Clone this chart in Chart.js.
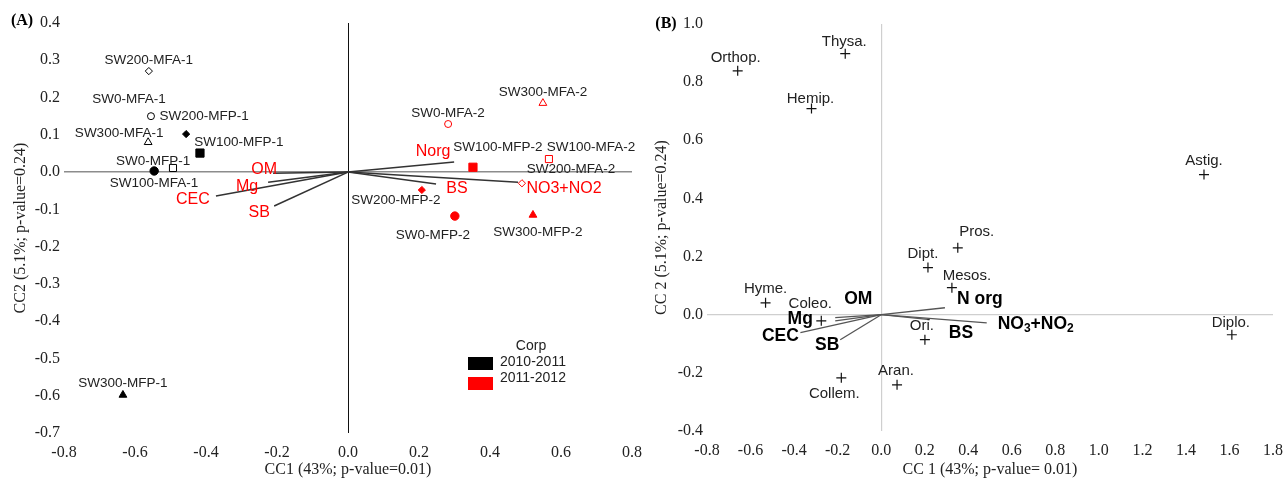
<!DOCTYPE html>
<html>
<head>
<meta charset="utf-8">
<script src="https://cdn.jsdelivr.net/npm/chart.js@4.4.0/dist/chart.umd.min.js"></script>
<style>
  body { margin: 0; background: #ffffff; overflow: hidden; }
  #caixaA { position: absolute; left: 0; top: 0; width: 660px; height: 482px; }
  #caixaB { position: absolute; left: 640px; top: 0; width: 643px; height: 482px; }
</style>
</head>
<body>
<div id="caixaA"><canvas id="graficoA" width="660" height="482"></canvas></div>
<div id="caixaB"><canvas id="graficoB" width="643" height="482"></canvas></div>
<script>
// ---- dados (A) amostras e variáveis do solo
const amostras = ['SW200-MFA-1', 'SW0-MFA-1', 'SW300-MFA-1', 'SW200-MFP-1', 'SW100-MFP-1', 'SW0-MFP-1', 'SW100-MFA-1', 'SW300-MFP-1',
  'SW0-MFA-2', 'SW300-MFA-2', 'SW100-MFP-2', 'SW100-MFA-2', 'SW200-MFA-2', 'SW200-MFP-2', 'SW0-MFP-2', 'SW300-MFP-2'];
const amostrasCC1 = [-0.561, -0.555, -0.563, -0.456, -0.417, -0.546, -0.493, -0.634, 0.282, 0.549, 0.352, 0.566, 0.490, 0.208, 0.301, 0.521];
const amostrasCC2 = [0.271, 0.150, 0.080, 0.102, 0.051, 0.003, 0.011, -0.598, 0.129, 0.185, 0.013, 0.035, -0.030, -0.048, -0.118, -0.115];
const safras = ['2010-2011', '2011-2012'];

const variaveisA = ['OM', 'Mg', 'CEC', 'SB', 'Norg', 'BS', 'NO3+NO2'];
const variaveisA_CC1 = [-0.211, -0.225, -0.372, -0.208, 0.299, 0.248, 0.479];
const variaveisA_CC2 = [-0.003, -0.027, -0.064, -0.091, 0.027, -0.032, -0.027];

// ---- dados (B) táxons e variáveis do solo
const taxons = ['Orthop.', 'Thysa.', 'Hemip.', 'Astig.', 'Pros.', 'Dipt.', 'Mesos.', 'Hyme.', 'Coleo.', 'Ori.', 'Diplo.', 'Collem.', 'Aran.'];
const taxonsCC1 = [-0.659, -0.165, -0.320, 1.483, 0.352, 0.215, 0.325, -0.531, -0.275, 0.201, 1.611, -0.183, 0.073];
const taxonsCC2 = [0.839, 0.898, 0.709, 0.482, 0.230, 0.162, 0.093, 0.041, -0.021, -0.086, -0.069, -0.217, -0.241];

const variaveisB = ['OM', 'Mg', 'CEC', 'SB', 'N org', 'BS', 'NO3+NO2'];
const variaveisB_CC1 = [-0.211, -0.211, -0.371, -0.188, 0.293, 0.224, 0.485];
const variaveisB_CC2 = [-0.010, -0.021, -0.062, -0.086, 0.024, -0.017, -0.028];

// ---- ticks
const ticksA_x = [-0.8, -0.6, -0.4, -0.2, 0.0, 0.2, 0.4, 0.6, 0.8];
const ticksA_y = [-0.7, -0.6, -0.5, -0.4, -0.3, -0.2, -0.1, 0.0, 0.1, 0.2, 0.3, 0.4];
const ticksB_x = [-0.8, -0.6, -0.4, -0.2, 0.0, 0.2, 0.4, 0.6, 0.8, 1.0, 1.2, 1.4, 1.6, 1.8];
const ticksB_y = [-0.4, -0.2, 0.0, 0.2, 0.4, 0.6, 0.8, 1.0];

// deslocamento dos rótulos (px) em relação ao ponto / ponta da seta
const deslocAmostras = [[0, -11], [-22, -17], [-29, -9], [18, -18], [39, -11], [-1, -10], [-19, 15], [0, -12],
  [0, -11], [0, -11], [25, -20], [42, -12], [49, -14], [-26, 10], [-22, 19], [5, 17]];
const deslocVarA = [[-9, -4], [-21, 4], [-23, 4], [-15, 7], [-21, -10], [21, 5], [46, 6]];
const deslocTaxons = [[-2, -13], [-1, -12], [-1, -10], [0, -14], [19, -16], [-5, -14], [15, -12], [0, -14], [-11, -17], [-3, -14], [-1, -12], [-7, 16], [-1, -14]];
const deslocVarB = [[23, -18], [-35, -2], [-20, 3], [-13, 5], [35, -9], [31, 14], [49, 1]];

const coresSafra = ['#000000', '#ff0000'];
const SERIF = "'Liberation Serif', 'Times New Roman', serif";
const SANS = "'Liberation Sans', Arial, sans-serif";

function estiloAmostra(nome) {
  const nivel = nome.split('-')[0];
  const aberto = nome.includes('MFA');
  const forma = { SW0: 'circle', SW100: 'rect', SW200: 'rectRot', SW300: 'triangle' }[nivel];
  const raio = { circle: aberto ? 3.5 : 4.2, rect: aberto ? 5 : 5.8, rectRot: 3.6, triangle: 4.5 }[forma];
  return { forma, raio, aberto };
}

function datasetsAmostras() {
  return safras.map((safra, s) => {
    const idx = amostras.map((n, i) => i).filter(i => amostras[i].endsWith('-' + (s + 1)));
    const cor = coresSafra[s];
    return {
      label: safra,
      data: idx.map(i => ({ x: amostrasCC1[i], y: amostrasCC2[i] })),
      pointStyle: idx.map(i => estiloAmostra(amostras[i]).forma),
      pointRadius: idx.map(i => estiloAmostra(amostras[i]).raio),
      backgroundColor: idx.map(i => estiloAmostra(amostras[i]).aberto ? '#ffffff' : cor),
      borderColor: cor,
      borderWidth: 1
    };
  });
}

function datasetsSetas(cc1, cc2, cor, largura) {
  return cc1.map((v, i) => ({
    type: 'line',
    data: [{ x: 0, y: 0 }, { x: v, y: cc2[i] }],
    borderColor: cor,
    borderWidth: largura,
    pointRadius: 0
  }));
}

function linhaZero(cor, largura) {
  return {
    display: true,
    drawTicks: false,
    color: ctx => Math.abs(ctx.tick.value) < 1e-9 ? cor : 'rgba(0,0,0,0)',
    lineWidth: ctx => Math.abs(ctx.tick.value) < 1e-9 ? largura : 0
  };
}

function eixo(ticks, padding, extra) {
  return Object.assign({
    type: 'linear',
    min: ticks[0],
    max: ticks[ticks.length - 1],
    afterBuildTicks: scale => { scale.ticks = ticks.map(v => ({ value: v })); },
    border: { display: false },
    ticks: {
      padding: padding,
      color: '#222222',
      font: { family: SERIF, size: 16 },
      callback: v => (Math.abs(v) < 1e-9 ? 0 : v).toFixed(1)
    }
  }, extra);
}

// altura fixa do eixo x, sem reservar espaço lateral para os rótulos
function ajustarEixoX(altura) {
  return s => {
    s.height = altura;
    s.paddingLeft = 0;
    s.paddingRight = 0;
  };
}

function desenharTexto(ctx, texto, x, y, fonte, cor) {
  ctx.font = fonte;
  ctx.fillStyle = cor;
  ctx.textAlign = 'center';
  ctx.textBaseline = 'middle';
  ctx.fillText(texto, x, y);
}

// texto com subscritos: NO3+NO2
function desenharNO3(ctx, xc, y, tamanho, peso, cor) {
  const partes = [['NO', false], ['3', true], ['+NO', false], ['2', true]];
  const fonteN = peso + ' ' + tamanho + 'px ' + SANS;
  const fonteS = peso + ' ' + Math.round(tamanho * 0.66) + 'px ' + SANS;
  let total = 0;
  partes.forEach(([t, sub]) => { ctx.font = sub ? fonteS : fonteN; total += ctx.measureText(t).width; });
  let x = xc - total / 2;
  ctx.fillStyle = cor;
  ctx.textAlign = 'left';
  ctx.textBaseline = 'middle';
  partes.forEach(([t, sub]) => {
    ctx.font = sub ? fonteS : fonteN;
    ctx.fillText(t, x, sub ? y + tamanho * 0.3 : y);
    x += ctx.measureText(t).width;
  });
}

const rotulosA = {
  id: 'rotulosA',
  afterDatasetsDraw(chart) {
    const { ctx, scales: { x, y } } = chart;
    ctx.save();
    amostras.forEach((nome, i) => {
      const px = x.getPixelForValue(amostrasCC1[i]) + deslocAmostras[i][0];
      const py = y.getPixelForValue(amostrasCC2[i]) + deslocAmostras[i][1];
      desenharTexto(ctx, nome, px, py, '13.5px ' + SANS, '#222222');
    });
    variaveisA.forEach((nome, i) => {
      const px = x.getPixelForValue(variaveisA_CC1[i]) + deslocVarA[i][0];
      const py = y.getPixelForValue(variaveisA_CC2[i]) + deslocVarA[i][1];
      desenharTexto(ctx, nome, px, py, '16px ' + SANS, '#ff0000');
    });
    // legenda "Corp"
    desenharTexto(ctx, 'Corp', 531, 346, '14px ' + SANS, '#222222');
    safras.forEach((safra, s) => {
      ctx.fillStyle = coresSafra[s];
      ctx.fillRect(468, 357 + s * 20, 25, 13);
      ctx.font = '14px ' + SANS;
      ctx.fillStyle = '#222222';
      ctx.textAlign = 'left';
      ctx.textBaseline = 'middle';
      ctx.fillText(safra, 500, 362 + s * 16);
    });
    desenharTexto(ctx, '(A)', 22, 21, 'bold 16px ' + SERIF, '#000000');
    ctx.restore();
  }
};

const rotulosB = {
  id: 'rotulosB',
  afterDatasetsDraw(chart) {
    const { ctx, scales: { x, y } } = chart;
    ctx.save();
    taxons.forEach((nome, i) => {
      const px = x.getPixelForValue(taxonsCC1[i]) + deslocTaxons[i][0];
      const py = y.getPixelForValue(taxonsCC2[i]) + deslocTaxons[i][1];
      desenharTexto(ctx, nome, px, py, '15px ' + SANS, '#222222');
    });
    variaveisB.forEach((nome, i) => {
      const px = x.getPixelForValue(variaveisB_CC1[i]) + deslocVarB[i][0];
      const py = y.getPixelForValue(variaveisB_CC2[i]) + deslocVarB[i][1];
      if (nome === 'NO3+NO2') desenharNO3(ctx, px, py, 17.5, 'bold', '#000000');
      else desenharTexto(ctx, nome, px, py, 'bold 17.5px ' + SANS, '#000000');
    });
    desenharTexto(ctx, '(B)', 26, 24, 'bold 16px ' + SERIF, '#000000');
    ctx.restore();
  }
};

function gerarGraficoA() {
  const ctx = document.getElementById('graficoA').getContext('2d');
  new Chart(ctx, {
    type: 'scatter',
    data: {
      datasets: [
        ...datasetsSetas(variaveisA_CC1, variaveisA_CC2, '#333333', 1.5),
        ...datasetsAmostras()
      ]
    },
    options: {
      responsive: false,
      animation: false,
      layout: { padding: { top: 23, right: 28, left: 0, bottom: 0 } },
      plugins: { legend: { display: false }, tooltip: { enabled: false } },
      scales: {
        x: eixo(ticksA_x, 10, {
          afterFit: ajustarEixoX(49),
          grid: linhaZero('#111111', 1),
          title: { display: true, text: 'CC1 (43%; p-value=0.01)', color: '#222222', font: { family: SERIF, size: 16 }, padding: { top: 0, bottom: 3 } }
        }),
        y: eixo(ticksA_y, 4, {
          afterFit: s => { s.width = 64; },
          grid: linhaZero('#8c8c8c', 1.5),
          title: { display: true, text: 'CC2 (5.1%; p-value=0.24)', color: '#222222', font: { family: SERIF, size: 16 }, padding: { top: 11, bottom: 0 } }
        })
      }
    },
    plugins: [rotulosA]
  });
}

function gerarGraficoB() {
  const ctx = document.getElementById('graficoB').getContext('2d');
  new Chart(ctx, {
    type: 'scatter',
    data: {
      datasets: [
        ...datasetsSetas(variaveisB_CC1, variaveisB_CC2, '#555555', 1.3),
        {
          label: 'Táxons',
          data: taxons.map((t, i) => ({ x: taxonsCC1[i], y: taxonsCC2[i] })),
          pointStyle: 'cross',
          pointRadius: 5,
          borderColor: '#111111',
          borderWidth: 1.2
        }
      ]
    },
    options: {
      responsive: false,
      animation: false,
      layout: { padding: { top: 24, right: 10, left: 0, bottom: 0 } },
      plugins: { legend: { display: false }, tooltip: { enabled: false } },
      scales: {
        x: eixo(ticksB_x, 10, {
          afterFit: ajustarEixoX(51),
          grid: linhaZero('#cfcfcf', 1.2),
          title: { display: true, text: 'CC 1 (43%; p-value= 0.01)', color: '#222222', font: { family: SERIF, size: 16 }, padding: { top: 0, bottom: 3 } }
        }),
        y: eixo(ticksB_y, 4, {
          afterFit: s => { s.width = 67; },
          grid: linhaZero('#cfcfcf', 1.2),
          title: { display: true, text: 'CC 2 (5.1%; p-value=0.24)', color: '#222222', font: { family: SERIF, size: 16 }, padding: { top: 12, bottom: 0 } }
        })
      }
    },
    plugins: [rotulosB]
  });
}

gerarGraficoA();
gerarGraficoB();
</script>
</body>
</html>
